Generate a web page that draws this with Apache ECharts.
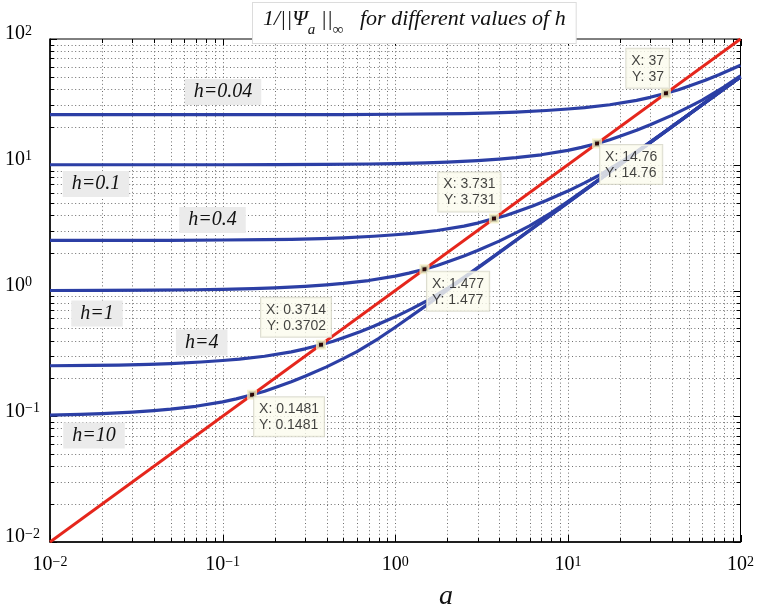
<!DOCTYPE html>
<html>
<head>
<meta charset="utf-8">
<script src="https://cdn.jsdelivr.net/npm/echarts@6/dist/echarts.min.js"></script>
<style>html,body{margin:0;padding:0;background:#fff}#c{width:757px;height:610px}</style>
</head>
<body>
<div id="c"></div>
<script>
// ---- data ----
const redA = [0.01, 100];
const redY = [0.01, 100];

const h004A = [0.01, 0.25, 0.5, 1, 1.75, 2.5, 3.75, 5, 7.5, 10, 12.5, 17.5, 25, 30, 37, 43.75, 50, 62.5, 75, 100];
const h004Y = [25, 25, 25.075, 25.2, 25.35, 25.5, 25.875, 26.25, 27, 27.75, 28.5, 30, 32.5, 34.375, 37, 39.5, 42.125, 47, 52, 61.75];

const h01A = [0.01, 0.1, 0.2, 0.4, 0.7, 1, 1.5, 2, 3, 4, 5, 7, 10, 12, 14.76, 17.5, 20, 25, 30, 40, 50, 60, 80, 100];
const h01Y = [10, 10, 10.03, 10.08, 10.14, 10.2, 10.35, 10.5, 10.8, 11.1, 11.4, 12.0, 13.0, 13.75, 14.76, 15.8, 16.85, 18.8, 20.8, 24.7, 28.7, 32.7, 41.5, 51];

const h04A = [0.01, 0.025, 0.05, 0.1, 0.175, 0.25, 0.375, 0.5, 0.75, 1, 1.25, 1.75, 2.5, 3, 3.731, 4.375, 5, 6.25, 7.5, 10, 12.5, 15, 20, 25, 37.5, 50, 100];
const h04Y = [2.5, 2.5, 2.5075, 2.52, 2.535, 2.55, 2.5875, 2.625, 2.7, 2.775, 2.85, 3.0, 3.25, 3.4375, 3.731, 3.95, 4.2125, 4.7, 5.2, 6.175, 7.175, 8.175, 10.375, 12.75, 18.875, 25.125, 50];

const h1A = [0.01, 0.02, 0.04, 0.07, 0.1, 0.15, 0.2, 0.3, 0.4, 0.5, 0.7, 1.0, 1.2, 1.477, 1.75, 2.0, 2.5, 3.0, 4.0, 5.0, 6.0, 8.0, 10, 15, 20, 40, 100];
const h1Y = [1.0, 1.003, 1.008, 1.014, 1.02, 1.035, 1.05, 1.08, 1.11, 1.14, 1.20, 1.30, 1.375, 1.477, 1.58, 1.685, 1.88, 2.08, 2.47, 2.87, 3.27, 4.15, 5.1, 7.55, 10.05, 20.0, 50];

const h4A = [0.01, 0.0175, 0.025, 0.0375, 0.05, 0.075, 0.1, 0.125, 0.175, 0.25, 0.3, 0.3714, 0.4375, 0.5, 0.625, 0.75, 1, 1.25, 1.5, 2, 2.5, 3.75, 5, 10, 25, 100];
const h4Y = [0.252, 0.2535, 0.255, 0.25875, 0.2625, 0.27, 0.2775, 0.285, 0.30, 0.325, 0.34375, 0.3702, 0.395, 0.42125, 0.47, 0.52, 0.6175, 0.7175, 0.8175, 1.0375, 1.275, 1.8875, 2.5125, 5.0, 12.5, 50];

const h10A = [0.01, 0.015, 0.02, 0.03, 0.04, 0.05, 0.07, 0.1, 0.12, 0.1481, 0.175, 0.2, 0.25, 0.3, 0.4, 0.5, 0.6, 0.8, 1, 1.5, 2, 4, 10, 40, 100];
const h10Y = [0.102, 0.1035, 0.105, 0.108, 0.111, 0.114, 0.12, 0.13, 0.1375, 0.1481, 0.158, 0.1685, 0.188, 0.208, 0.247, 0.287, 0.327, 0.415, 0.51, 0.755, 1.005, 2.0, 5.0, 20, 50];

const tipA = [37, 14.76, 3.731, 1.477, 0.3714, 0.1481];
const tipY = [37, 14.76, 3.731, 1.477, 0.3702, 0.1481];
const tipText = [['37','37'], ['14.76','14.76'], ['3.731','3.731'], ['1.477','1.477'], ['0.3714','0.3702'], ['0.1481','0.1481']];

const hLabels = ['h=0.04', 'h=0.1', 'h=0.4', 'h=1', 'h=4', 'h=10'];

const majorTicks = [0.01, 0.1, 1, 10, 100];
const minorTicks = [0.02,0.03,0.04,0.05,0.06,0.07,0.08,0.09,
                    0.2,0.3,0.4,0.5,0.6,0.7,0.8,0.9,
                    2,3,4,5,6,7,8,9,
                    20,30,40,50,60,70,80,90];
const AMIN = 0.01, AMAX = 100;

// ---- styling / layout ----
const BLUE = '#2c3fa5', RED = '#e5261c';
const SERIF = '"Liberation Serif","DejaVu Serif",serif';
const SANS = '"Liberation Sans",Arial,sans-serif';

function pairs(a, y) { return a.map((v, i) => [v, y[i]]); }

function expLabel(v) {
  const e = Math.round(Math.log10(v));
  return '{b|10}{e|' + (e < 0 ? '\u2212' + (-e) : e) + '}';
}
const labelRich = {
  b: { fontFamily: SERIF, fontSize: 20, lineHeight: 30, color: '#000', verticalAlign: 'top' },
  e: { fontFamily: SERIF, fontSize: 14, lineHeight: 10, color: '#000', verticalAlign: 'top' }
};

const tickData = majorTicks.map(v => [v, 1, 1]).concat(minorTicks.map(v => [v, 1, 0]));
const tickDataY = majorTicks.map(v => [1, v, 1]).concat(minorTicks.map(v => [1, v, 0]));
const GRID_STYLE = { stroke: '#6e6e6e', lineWidth: 1, lineDash: [1, 2.6] };

function renderXTick(params, api) {
  const v = api.value(0), major = api.value(2);
  const p0 = api.coord([v, AMIN]), p1 = api.coord([v, AMAX]);
  const x = Math.round(p0[0]) + 0.5;
  const L = major ? 7 : 4;
  const ch = [
    { type: 'line', shape: { x1: x, y1: p0[1], x2: x, y2: p1[1] }, style: GRID_STYLE },
    { type: 'line', shape: { x1: x, y1: p0[1], x2: x, y2: p0[1] - L }, style: { stroke: '#000', lineWidth: 1 } },
    { type: 'line', shape: { x1: x, y1: p1[1], x2: x, y2: p1[1] + L }, style: { stroke: '#000', lineWidth: 1 } }
  ];
  if (v === AMIN || v === AMAX) ch.shift();
  return { type: 'group', children: ch };
}
function renderYTick(params, api) {
  const v = api.value(1), major = api.value(2);
  const p0 = api.coord([AMIN, v]), p1 = api.coord([AMAX, v]);
  const y = Math.round(p0[1]) + 0.5;
  const L = major ? 7 : 4;
  const ch = [
    { type: 'line', shape: { x1: p0[0], y1: y, x2: p1[0], y2: y }, style: GRID_STYLE },
    { type: 'line', shape: { x1: p0[0], y1: y, x2: p0[0] + L, y2: y }, style: { stroke: '#000', lineWidth: 1 } },
    { type: 'line', shape: { x1: p1[0], y1: y, x2: p1[0] - L, y2: y }, style: { stroke: '#000', lineWidth: 1 } }
  ];
  if (v === AMIN || v === AMAX) ch.shift();
  return { type: 'group', children: ch };
}

// datatip label placements (pixel offsets relative to marker box)
const tipPlace = [
  { position: [8, -0.5], align: 'right', verticalAlign: 'bottom' },
  { position: [8, 6.5], align: 'left', verticalAlign: 'top' },
  { position: [11.5, -2], align: 'right', verticalAlign: 'bottom' },
  { position: [7.5, 7.5], align: 'left', verticalAlign: 'top' },
  { position: [15, -3], align: 'right', verticalAlign: 'bottom' },
  { position: [7, 7.5], align: 'left', verticalAlign: 'top' }
];
const tipData = tipA.map((a, i) => ({
  value: [a, tipY[i]],
  label: Object.assign({ formatter: 'X: ' + tipText[i][0] + '\nY: ' + tipText[i][1] }, tipPlace[i])
}));

// h-label placement (centre, pixels)
const hPos = [[223, 92], [96, 184], [212.5, 220], [97, 313.5], [201.7, 342.5], [94, 435.5]];

const chart = echarts.init(document.getElementById('c'), null, { renderer: 'canvas' });

function blueLine(name, a, y) {
  return {
    name, type: 'line', data: pairs(a, y), showSymbol: false, smooth: false,
    lineStyle: { color: BLUE, width: 3.2, join: 'round' }, z: 3, silent: true
  };
}

const option = {
  animation: false,
  backgroundColor: '#fff',
  grid: { left: 50, right: 14, top: 39, bottom: 68, show: true, borderColor: '#000', borderWidth: 1, backgroundColor: 'transparent' },
  xAxis: {
    type: 'log', logBase: 10, min: AMIN, max: AMAX,
    axisLine: { show: true, lineStyle: { color: '#000', width: 1.5 } },
    axisTick: { show: false }, splitLine: { show: false },
    axisLabel: { formatter: expLabel, rich: labelRich, margin: 13 }
  },
  yAxis: {
    type: 'log', logBase: 10, min: AMIN, max: AMAX,
    axisLine: { show: true, lineStyle: { color: '#000', width: 1.5 } },
    axisTick: { show: false }, splitLine: { show: false },
    axisLabel: { formatter: expLabel, rich: labelRich, margin: 45, align: 'left' }
  },
  series: [
    { type: 'custom', renderItem: renderXTick, data: tickData, encode: { x: 0, y: 1 }, z: 1, silent: true, clip: false },
    { type: 'custom', renderItem: renderYTick, data: tickDataY, encode: { x: 0, y: 1 }, z: 1, silent: true, clip: false },
    blueLine('h=0.04', h004A, h004Y),
    blueLine('h=0.1', h01A, h01Y),
    blueLine('h=0.4', h04A, h04Y),
    blueLine('h=1', h1A, h1Y),
    blueLine('h=4', h4A, h4Y),
    blueLine('h=10', h10A, h10Y),
    { name: 'a', type: 'line', data: pairs(redA, redY), showSymbol: false, lineStyle: { color: RED, width: 2.8 }, z: 4, silent: true },
    {
      type: 'scatter', data: tipData, symbol: 'rect', symbolSize: 7, z: 6, silent: true,
      itemStyle: { color: '#000', borderColor: '#f4f0c6', borderWidth: 3 },
      label: {
        show: true, fontFamily: SANS, fontSize: 14, lineHeight: 16, color: '#111',
        backgroundColor: '#fbfbee', borderColor: '#d5d5c5', borderWidth: 1, padding: [4, 5, 3, 5]
      }
    }
  ],
  graphic: [
    {
      type: 'text', left: 252, top: 2, z: 20,
      style: {
        text: '{t|1/||\u03A8}{s|a}{t| ||}{s|\u221E}{t|   for different values of h}',
        backgroundColor: '#fff', borderColor: '#dcdcdc', borderWidth: 1, padding: [5, 10, 5, 10],
        rich: {
          t: { fontFamily: SERIF, fontStyle: 'italic', fontSize: 22, lineHeight: 30, verticalAlign: 'top', fill: '#111' },
          s: { fontFamily: SERIF, fontStyle: 'italic', fontSize: 15, lineHeight: 12, verticalAlign: 'bottom', fill: '#111' }
        }
      }
    },
    {
      type: 'text', x: 446, y: 597, z: 20,
      style: { text: 'a', font: 'italic 28px ' + SERIF, fill: '#111', align: 'center', verticalAlign: 'middle' }
    }
  ].concat(hLabels.map((t, i) => ({
    type: 'text', x: hPos[i][0], y: hPos[i][1], z: 20,
    style: {
      text: t, font: 'italic 20px ' + SERIF, fill: '#111', align: 'center', verticalAlign: 'middle',
      backgroundColor: '#ebebeb', padding: [3, 9, 3, 9]
    }
  })))
};
chart.setOption(option);
</script>
</body>
</html>
